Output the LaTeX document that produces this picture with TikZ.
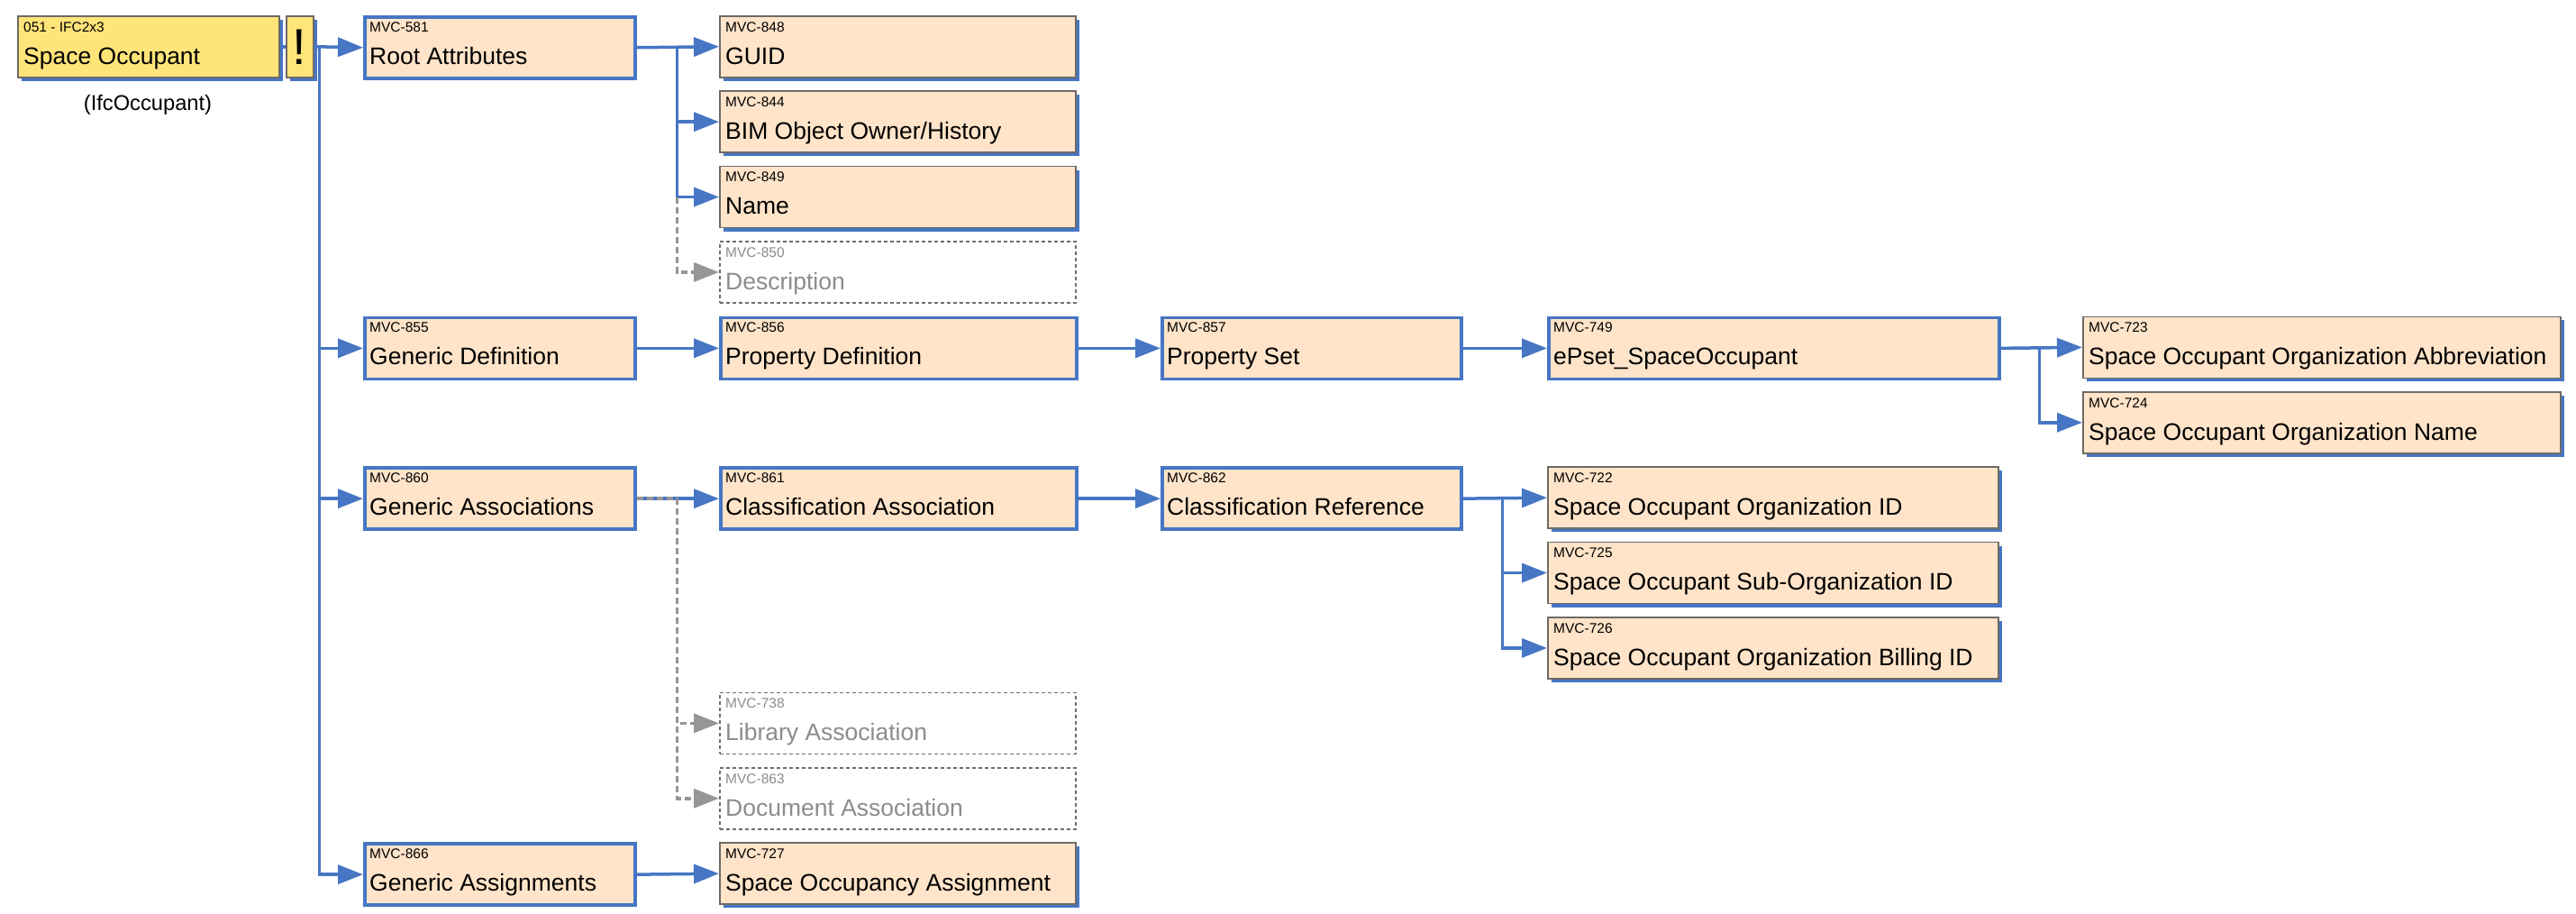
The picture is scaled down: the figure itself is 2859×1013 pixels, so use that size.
\documentclass[tikz,border=0pt]{standalone}
\usepackage{fontspec}
\setmainfont{Liberation Sans}
\usetikzlibrary{arrows.meta,shadows,calc}
\definecolor{mblue}{RGB}{70,118,196}
\definecolor{peach}{RGB}{255,228,201}
\definecolor{yel}{RGB}{255,228,122}
\definecolor{bord}{RGB}{110,106,102}
\definecolor{optgray}{RGB}{110,110,110}
\definecolor{optconncol}{RGB}{150,150,150}
\definecolor{opttext}{RGB}{140,140,140}
\tikzset{
  boxbase/.style={rectangle, inner sep=0pt, minimum height=68pt, anchor=north west},
  nodebox/.style={boxbase, draw=mblue, line width=3.5pt, fill=peach},
  leafbox/.style={boxbase, draw=bord, line width=1.5pt, fill=peach,
    drop shadow={shadow xshift=4pt, shadow yshift=-4pt, fill=mblue, opacity=1}},
  rootbox/.style={leafbox, fill=yel},
  optbox/.style={boxbase, draw=optgray, line width=1.5pt, dash pattern=on 4pt off 3pt, fill=white},
  codetxt/.style={inner sep=0pt, anchor=base west, font=\fontsize{15.5}{18}\selectfont},
  titletxt/.style={inner sep=0pt, anchor=base west, font=\fontsize{26.5}{30}\selectfont},
  conn/.style={draw=mblue, line width=3.5pt, -{Triangle[length=28pt,width=21pt]}},
  plainconn/.style={draw=mblue, line width=3.5pt},
  optconn/.style={draw=optconncol, line width=3.5pt, dash pattern=on 7pt off 4pt, -{Triangle[length=28pt,width=21pt]}},
  optline/.style={draw=optconncol, line width=3.5pt, dash pattern=on 7pt off 4pt},
}
\newcommand{\mvcnode}[8]{%
  \node[#2, minimum width=#5pt] (#1) at (#3,#4) {};
  \node[codetxt, text=#8] (#1c) at ([xshift=7pt,yshift=-18pt]#1.north west) {#6};
  \node[titletxt, text=#8] (#1t) at ([xshift=7pt,yshift=-54pt]#1.north west) {#7};
}
\begin{document}
\begin{tikzpicture}[x=1pt, y=-1pt]
\useasboundingbox[fill=white] (0,0) rectangle (2859,1013);

% root
\mvcnode{sp}{rootbox}{19}{17}{290}{051 - IFC2x3}{Space Occupant}{black}
\node[rootbox, minimum width=30pt] (ex) at (317,17) {};
\node[inner sep=0pt, font=\fontsize{56}{60}\selectfont] (exm) at (ex.center) {!};
\node[inner sep=0pt, anchor=base, font=\fontsize{23.7}{28}\selectfont] (ifc) at (164,122) {(IfcOccupant)};

% column B
\mvcnode{ra}{nodebox}{403}{17}{300}{MVC-581}{Root Attributes}{black}
\mvcnode{gd}{nodebox}{403}{350.6}{300}{MVC-855}{Generic Definition}{black}
\mvcnode{gas}{nodebox}{403}{517.4}{300}{MVC-860}{Generic Associations}{black}
\mvcnode{gsn}{nodebox}{403}{934.4}{300}{MVC-866}{Generic Assignments}{black}

% column C
\mvcnode{guid}{leafbox}{798}{17}{395}{MVC-848}{GUID}{black}
\mvcnode{bim}{leafbox}{798}{100.4}{395}{MVC-844}{BIM Object Owner/History}{black}
\mvcnode{nm}{leafbox}{798}{183.8}{395}{MVC-849}{Name}{black}
\mvcnode{desc}{optbox}{798}{267.2}{395}{MVC-850}{Description}{opttext}
\mvcnode{pd}{nodebox}{798}{350.6}{395}{MVC-856}{Property Definition}{black}
\mvcnode{ca}{nodebox}{798}{517.4}{395}{MVC-861}{Classification Association}{black}
\mvcnode{lib}{optbox}{798}{767.6}{395}{MVC-738}{Library Association}{opttext}
\mvcnode{doc}{optbox}{798}{851}{395}{MVC-863}{Document Association}{opttext}
\mvcnode{soa}{leafbox}{798}{934.4}{395}{MVC-727}{Space Occupancy Assignment}{black}

% column D
\mvcnode{ps}{nodebox}{1288}{350.6}{332}{MVC-857}{Property Set}{black}
\mvcnode{cr}{nodebox}{1288}{517.4}{332}{MVC-862}{Classification Reference}{black}

% column E
\mvcnode{ep}{nodebox}{1717}{350.6}{500}{MVC-749}{ePset\_SpaceOccupant}{black}
\mvcnode{a722}{leafbox}{1717}{517.4}{500}{MVC-722}{Space Occupant Organization ID}{black}
\mvcnode{a725}{leafbox}{1717}{600.8}{500}{MVC-725}{Space Occupant Sub-Organization ID}{black}
\mvcnode{a726}{leafbox}{1717}{684.2}{500}{MVC-726}{Space Occupant Organization Billing ID}{black}

% column F
\mvcnode{a723}{leafbox}{2311}{350.6}{530}{MVC-723}{Space Occupant Organization Abbreviation}{black}
\mvcnode{a724}{leafbox}{2311}{434}{530}{MVC-724}{Space Occupant Organization Name}{black}

% branch points
\coordinate (tr) at ([xshift=6pt]ex.east);
\coordinate (rb) at ([xshift=45pt]ra.east);
\coordinate (gab) at ([xshift=45pt]gas.east);
\coordinate (eb) at ([xshift=43pt]ep.east);
\coordinate (cb) at ([xshift=44pt]cr.east);

% connectors
\draw[plainconn] (sp.east) -- (ex.west);
\draw[conn] (ex.east) -- (ra.west);
\draw[conn] (tr) |- (gd.west);
\draw[conn] (tr) |- (gas.west);
\draw[conn] (tr) |- (gsn.west);

\draw[conn] (ra.east) -- (guid.west);
\draw[conn] (rb) |- (bim.west);
\draw[conn] (rb) |- (nm.west);
\draw[optconn] (rb |- nm.west) |- (desc.west);

\draw[conn] (gd.east) -- (pd.west);
\draw[conn] (pd.east) -- (ps.west);
\draw[conn] (ps.east) -- (ep.west);
\draw[conn] (ep.east) -- (a723.west);
\draw[conn] (eb) |- (a724.west);

\draw[conn] (gas.east) -- (ca.west);
\draw[optline] (gas.east) -- (gab);
\draw[optconn] (gab) |- (lib.west);
\draw[optconn] (gab) |- (doc.west);
\draw[conn] (ca.east) -- (cr.west);
\draw[conn] (cr.east) -- (a722.west);
\draw[conn] (cb) |- (a725.west);
\draw[conn] (cb) |- (a726.west);

\draw[conn] (gsn.east) -- (soa.west);
\end{tikzpicture}
\end{document}
